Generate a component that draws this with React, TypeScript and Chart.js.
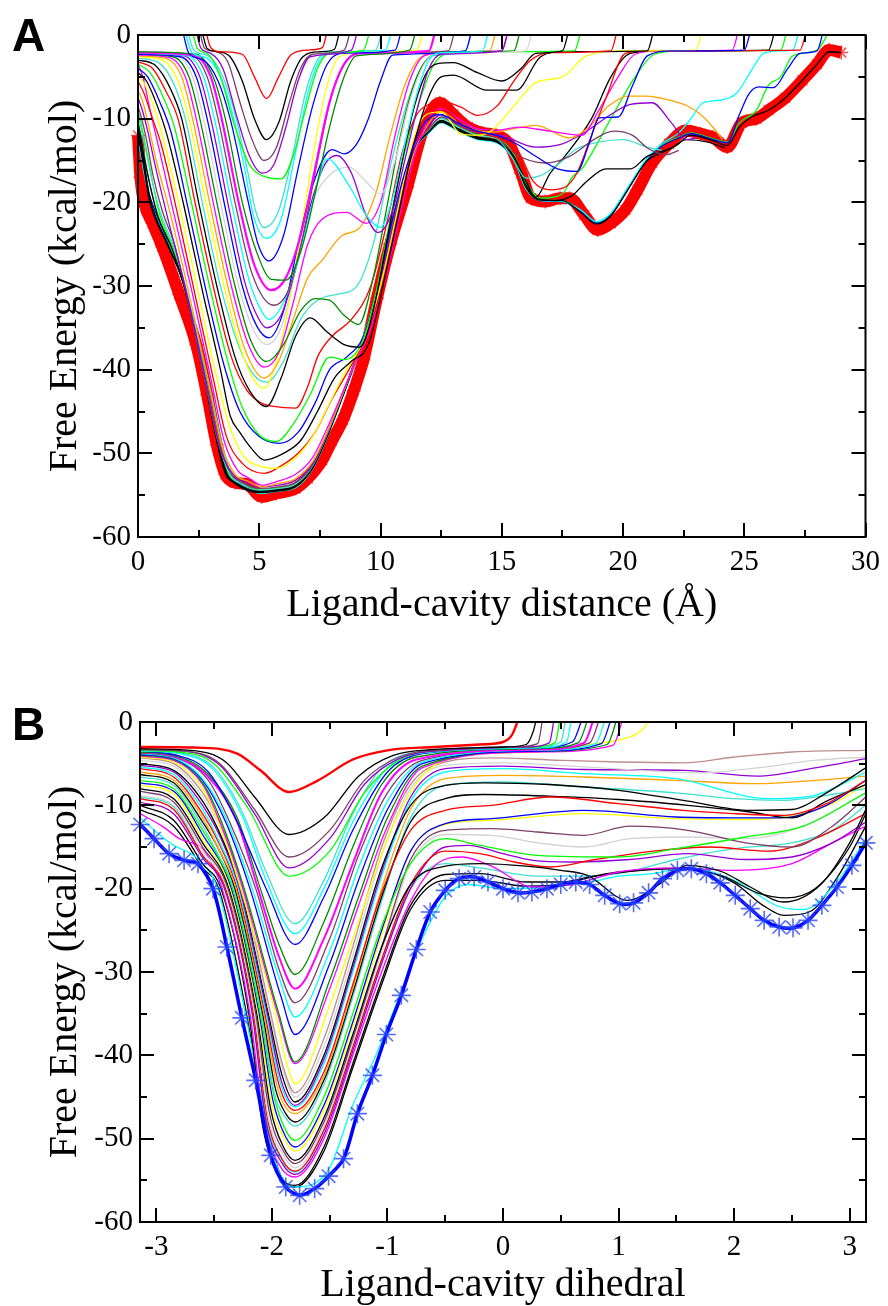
import React, { useEffect, useRef } from 'react';
import { Chart, registerables } from 'chart.js';
Chart.register(...registerables);

const SERIF = "'Liberation Serif', 'Times New Roman', Times, serif";
const SANS = "'Liberation Sans', Arial, Helvetica, sans-serif";

// xmgrace palette
const K = '#000000', R = '#ff0000', G = '#00ff00', BL = '#0000ff', Y = '#ffff00';
const BR = '#bc8f8f', GR = '#d3d3d3', V = '#9400d3', C = '#00ffff', M = '#ff00ff';
const O = '#ffa500', MA = '#7b3f6a', T = '#40e0d0', G4 = '#008b00';

// ---------- Panel A : axis ticks ----------
const A_X_MAJOR = [0, 5, 10, 15, 20, 25, 30];
const A_X_MINOR = [2.5, 7.5, 12.5, 17.5, 22.5, 27.5];
const A_Y_MAJOR = [-60, -50, -40, -30, -20, -10, 0];
const A_Y_MINOR = [-55, -45, -35, -25, -15, -5];

// ---------- Panel A : final profile (thick red) ----------
const A_FINAL_X = [0, 0.1, 0.25, 0.6, 1.0, 1.7, 2.4, 2.85, 3.25, 3.6, 4.0, 4.5, 5.1, 5.7, 6.5, 7.0, 7.6, 8.0, 8.45, 8.9, 9.3, 9.85, 10.4, 11.1, 11.75, 12.45, 13.0, 13.6, 14.2, 14.8, 15.3, 15.8, 16.2, 16.8, 17.4, 17.8, 18.4, 18.95, 19.5, 20.1, 20.6, 21.2, 21.9, 22.6, 23.2, 23.7, 24.3, 24.9, 25.5, 26.0, 26.7, 27.4, 28.0, 28.5, 29.0];
const A_FINAL_Y = [-12, -17, -20, -22.5, -25.3, -31, -37, -43, -49, -52.5, -53.5, -53.7, -55.2, -54.8, -54.2, -53, -50.8, -48.5, -46, -42.5, -38.8, -31.5, -25, -18.2, -11.4, -8.1, -9.5, -11, -11.7, -12, -13, -16.5, -19.5, -19.9, -19.5, -19.5, -21.5, -23.3, -22.5, -20.9, -18.5, -15.3, -13, -11.4, -11.8, -12.2, -13.4, -10.5, -10, -9, -7.5, -5.4, -3.5, -1.8, -2.1];

// ---------- Panel A : intermediate profiles (x, y pairs) ----------
const A01 = [2.75, 1, 3.0, -1.5, 3.4, -2, 4.3, -2.3, 4.8, -5, 5.3, -7.6, 5.8, -5, 6.3, -2.4, 7.0, -1.8, 7.6, -1.5, 7.85, 1];
const A02 = [2.6, 1, 2.85, -1.6, 3.3, -2, 3.8, -2.6, 4.3, -5.5, 4.8, -10, 5.3, -12.5, 5.8, -10.5, 6.3, -5.5, 6.8, -2.6, 7.5, -2, 8.1, -1.7, 8.35, 1];
const A03 = [2.5, 1, 2.75, -1.6, 3.2, -2, 3.7, -3.2, 4.2, -8, 4.7, -12.5, 5.2, -15, 5.7, -13.5, 6.2, -8.5, 6.7, -4, 7.2, -2.3, 8.5, -1.8, 8.8, 1];
const A04 = [2.35, 1, 2.6, -1.6, 3.0, -2.2, 3.5, -4, 4.1, -10, 4.6, -14.5, 5.1, -16.5, 5.6, -15.5, 6.1, -11, 6.6, -5.5, 7.1, -2.6, 8.8, -1.8, 9.1, 1];
const A05 = [2.2, 1, 2.45, -1.6, 2.9, -2.3, 3.4, -5, 4.0, -11, 4.6, -15.5, 5.2, -16.9, 5.9, -17.2, 6.4, -14.5, 6.9, -9, 7.4, -4, 7.9, -2.2, 9.3, -1.8, 9.6, 1];
const A06 = [2.0, 1, 2.3, -1.8, 2.9, -2.5, 3.5, -5, 4.05, -10, 4.5, -16, 4.85, -21, 5.2, -23, 5.8, -21, 6.4, -14, 6.9, -7, 7.4, -3, 8.0, -2, 9.8, -1.8, 10.1, 1];
const A07 = [1.9, 1, 2.2, -2, 2.8, -2.7, 3.4, -5, 3.95, -10, 4.4, -16, 4.75, -21.5, 5.3, -24.3, 5.9, -22, 6.5, -14, 7.0, -7, 7.5, -3, 8.2, -2, 10.2, -1.8, 10.5, 1];
const A08 = [1.8, 1, 2.1, -2.2, 2.7, -3, 3.3, -5.5, 3.8, -10, 4.55, -20, 4.95, -25, 5.4, -27, 6.0, -24, 6.6, -16, 7.2, -8.5, 7.8, -3.5, 8.4, -2.2, 10.6, -1.8, 10.9, 1];
const A09 = [0, -2, 2.4, -2.3, 3.1, -5, 3.6, -10, 4.3, -20, 4.9, -26, 5.5, -29.2, 6.1, -29.3, 6.7, -26, 7.3, -19, 7.9, -11, 8.5, -5, 9.0, -2.5, 11.2, -1.8, 11.5, 1];
const A10 = [0, -2.1, 2.3, -2.4, 3.0, -5, 3.45, -10, 4.15, -20, 4.8, -27.5, 5.5, -30.5, 6.1, -29, 6.7, -24, 7.3, -16, 7.9, -8, 8.5, -3.5, 9.1, -2.2, 12.0, -1.9, 12.3, 1];
const A11 = [0, -2.1, 2.2, -2.4, 2.85, -5, 3.3, -10, 4.0, -20, 4.7, -28.5, 5.6, -32.3, 6.2, -30.5, 6.8, -24, 7.4, -15, 8.0, -7, 8.6, -3, 9.2, -2.2, 12.8, -1.9, 13.1, 1];
const A12 = [0, -2.2, 2.05, -2.5, 2.7, -5, 3.15, -10, 3.85, -20, 4.55, -29, 5.0, -32.5, 5.4, -34, 6.0, -32, 6.6, -27, 7.2, -20, 7.8, -14.8, 8.7, -18, 9.4, -21.5, 10.0, -23, 10.5, -19.5, 11.0, -13, 11.5, -7, 12.0, -3, 12.5, -2.1, 14.2, -1.9, 14.5, 1];
const A13 = [0, -2.2, 1.9, -2.5, 2.55, -5, 3.0, -10, 3.7, -20, 4.4, -29.5, 4.9, -33.5, 5.3, -35, 5.9, -33.5, 6.5, -28, 7.1, -20.5, 7.7, -15.5, 8.2, -14.4, 8.8, -16.5, 9.4, -21.5, 9.9, -23.6, 10.5, -21, 11.0, -15, 11.5, -9, 12.0, -4, 12.5, -2.3, 15.0, -1.9, 15.3, 1];
const A14 = [0, -2.3, 1.75, -2.6, 2.4, -5, 2.85, -10, 3.55, -20, 4.3, -30, 4.9, -34.8, 5.4, -36.2, 6.0, -33, 6.6, -25, 7.2, -18, 8.0, -13.7, 8.5, -14.2, 9.0, -13.1, 9.5, -10, 10.0, -5.5, 10.5, -2.4, 13.5, -1.9, 13.8, 1];
const A15 = [0, -2.2, 1.6, -2.5, 2.25, -5, 2.7, -10, 3.4, -20, 4.15, -30, 4.8, -35.5, 5.3, -37, 5.9, -35, 6.5, -28, 7.2, -20, 8.0, -16.5, 8.7, -15.8, 9.4, -17.5, 10.0, -19, 10.6, -15, 11.2, -8, 11.8, -3.5, 12.4, -2.2, 16.0, -1.9, 16.3, 1];
const A16 = [0, -2.3, 1.45, -2.6, 2.1, -5, 2.55, -10, 3.25, -20, 4.0, -30, 4.65, -36.5, 5.3, -39, 6.0, -37, 6.7, -33, 7.3, -31.5, 7.9, -31.7, 8.5, -33.5, 9.1, -34.6, 9.7, -29, 10.3, -20, 10.9, -11, 11.5, -5, 12.1, -2.5, 13.0, -2, 15.5, -1.9, 15.8, 1];
const A17 = [0, -2.4, 1.3, -2.7, 1.95, -5, 2.4, -10, 3.1, -20, 3.85, -30, 4.55, -37, 5.2, -39.7, 5.8, -38, 6.4, -32, 7.0, -25, 7.6, -22, 8.6, -21.2, 9.4, -22.5, 10.0, -20, 10.6, -12, 11.2, -5.5, 11.8, -2.5, 13.0, -2, 15.0, -1.9, 15.3, 1];
const A18 = [0, -2.5, 1.15, -2.8, 1.8, -5, 2.25, -10, 2.95, -20, 3.7, -30, 4.4, -37.5, 5.2, -41, 5.8, -39, 6.4, -34, 7.0, -29, 7.6, -26.9, 8.4, -24, 9.15, -23, 9.8, -19, 10.4, -12, 11.0, -6, 11.6, -2.8, 12.5, -2, 14.5, -1.9, 14.8, 1];
const A19 = [0, -2.6, 1.0, -3, 1.65, -5.5, 2.1, -10, 2.8, -20, 3.55, -30, 4.3, -38, 4.8, -41.3, 5.2, -42.2, 5.8, -38, 6.3, -31, 6.8, -22, 7.3, -13, 7.8, -6, 8.3, -2.6, 9.5, -2, 11.5, -1.8, 11.8, 1];
const A20 = [0, -2.8, 0.85, -3.3, 1.5, -6, 1.95, -10, 2.65, -20, 3.4, -30, 4.2, -37.5, 4.8, -40.7, 5.3, -41.5, 6.0, -39, 6.7, -34, 7.4, -31.7, 8.2, -31, 9.0, -30.1, 9.7, -25, 10.3, -17, 10.9, -10, 11.5, -5, 12.1, -2.5, 13.5, -1.9, 13.8, 1];
const A21 = [0, -3.0, 0.7, -3.6, 1.35, -6.5, 1.8, -10, 2.5, -20, 3.25, -30, 4.0, -38.5, 4.6, -42.5, 5.3, -44.4, 5.9, -41, 6.5, -36, 7.1, -33.8, 7.8, -35.5, 8.5, -37, 9.15, -37.3, 9.7, -33, 10.3, -24, 10.9, -15, 11.4, -8.5, 11.9, -4.5, 12.4, -3.4, 13.0, -3.3, 14.0, -4.5, 15.0, -5.5, 15.8, -4, 16.4, -2.2, 17.5, -1.9, 17.8, 1];
const A22 = [0, -3.2, 0.6, -4, 1.2, -7, 1.65, -10, 2.35, -20, 3.1, -30, 3.85, -38.5, 4.5, -42.5, 5.1, -44, 5.6, -44.4, 6.5, -44.6, 7.0, -42, 7.4, -38.5, 8.0, -36, 8.8, -34, 9.6, -30, 10.3, -22, 10.9, -14, 11.5, -9.5, 12.0, -8.3, 12.6, -8, 13.3, -8.6, 14.0, -9.6, 14.8, -8.5, 15.5, -5.5, 16.2, -3, 17.0, -2.1, 19.5, -1.9, 19.8, 1];
const A23 = [0, -3.5, 0.5, -4.5, 1.05, -7.5, 1.5, -11, 2.2, -20, 2.95, -30, 3.7, -39, 4.3, -44.5, 5.0, -47.8, 5.7, -48.6, 6.4, -46.5, 7.1, -43, 7.9, -38.5, 8.5, -38.8, 9.2, -37, 9.8, -31, 10.4, -22, 11.0, -14, 11.6, -8, 12.2, -3.5, 12.8, -2.2, 14.5, -2, 18.0, -1.9, 18.3, 1];
const A24 = [0, -4, 0.4, -5, 0.9, -8, 1.35, -11.5, 2.05, -20.5, 2.8, -30.5, 3.55, -39.5, 4.2, -45, 5.0, -48, 5.85, -48.8, 6.6, -47.5, 7.3, -44, 7.9, -40, 8.6, -38.5, 9.3, -36, 9.9, -30, 10.5, -22, 11.1, -15.5, 11.7, -11, 12.4, -9.5, 13.2, -10.5, 14.0, -11.5, 14.8, -12, 15.6, -13, 16.4, -14.5, 17.3, -16, 18.1, -16.3, 18.6, -13, 19.0, -9.9, 19.8, -9.8, 20.4, -6, 21.0, -2.5, 22.0, -1.9, 25.0, -1.8, 25.3, 1];
const A25 = [0, -4.5, 0.35, -5.5, 0.8, -8.5, 1.2, -12, 1.9, -20.5, 2.65, -30.5, 3.4, -40, 3.8, -45.5, 4.2, -47.5, 4.7, -49.5, 5.2, -50.8, 6.0, -50, 6.7, -48.5, 7.4, -45, 8.1, -41, 8.8, -39, 9.5, -37, 10.1, -30, 10.7, -22, 11.3, -14, 11.9, -8, 12.5, -5, 13.0, -4.8, 14.4, -6.6, 15.6, -6.6, 16.6, -2.6, 17.5, -2.0, 21.0, -1.9, 21.3, 1];
const A26 = [0, -5, 0.3, -6, 0.7, -9, 1.05, -12.5, 1.75, -21, 2.5, -31, 3.25, -41, 3.8, -47, 4.4, -50.5, 5.0, -51.5, 5.7, -51.8, 6.5, -50.5, 7.2, -48, 7.9, -44, 8.6, -40, 9.3, -36.5, 10.0, -30, 10.7, -21, 11.3, -13, 11.9, -9.5, 12.5, -9.2, 13.3, -11.8, 14.0, -12, 14.6, -11.4, 15.5, -8.5, 16.4, -5.7, 17.5, -5.0, 18.5, -2.5, 20.0, -1.9, 23.0, -1.8, 23.3, 1];
const A27 = [0, -5.5, 0.25, -7, 0.6, -10, 0.95, -13, 1.6, -21, 2.35, -31, 3.1, -41, 3.65, -48, 4.3, -51.2, 5.2, -52.4, 5.9, -51.5, 6.6, -50, 7.3, -47.5, 8.0, -43.5, 8.7, -40, 9.4, -36, 10.1, -29, 10.8, -20, 11.4, -13, 12.0, -9.5, 12.6, -9, 13.4, -10.8, 14.2, -11.8, 15.0, -12.5, 15.7, -14, 16.3, -17.5, 17.0, -18.5, 17.6, -18.2, 18.1, -16.5, 18.7, -12, 19.3, -7.5, 20.1, -2.2, 21.0, -1.9, 27.3, -1.8, 27.6, 1];
const A28 = [0, -3.5, 0.2, -5, 0.5, -9, 0.9, -14, 1.45, -21, 2.25, -31, 3.0, -41, 3.55, -48.5, 4.1, -52, 4.6, -53, 5.1, -53.8, 5.8, -53.3, 6.5, -52.5, 7.2, -50.5, 7.8, -47, 8.4, -43, 9.0, -39, 9.6, -35, 10.2, -29, 10.8, -21.5, 11.4, -14.5, 12.0, -10, 12.5, -8.8, 13.2, -10, 14.0, -11.2, 14.8, -11.4, 15.7, -11, 17.0, -11.5, 18.3, -12, 19.0, -9, 19.8, -5, 20.5, -2.3, 21.5, -1.9, 24.5, -1.8, 24.8, 1];
const A29 = [0, -6.6, 0.2, -8, 0.45, -11, 0.75, -15, 1.3, -21, 2.15, -31.5, 2.9, -41.5, 3.45, -49, 4.0, -52.5, 4.5, -53.3, 5.1, -54, 5.8, -53.6, 6.5, -53, 7.2, -51, 7.8, -47.5, 8.4, -43.2, 9.0, -38.8, 9.6, -34, 10.2, -27.5, 10.8, -20, 11.4, -14, 12.0, -10.5, 12.5, -9.2, 13.2, -10.4, 14.0, -11.4, 14.7, -11.6, 15.5, -11.2, 16.4, -10.8, 17.8, -12.3, 18.6, -11, 19.4, -8.5, 20.2, -7.3, 21.0, -7.3, 21.5, -7.5, 22.6, -8.4, 23.2, -9.5, 23.7, -11, 24.1, -12.5];
const A30 = [0, -7.5, 0.18, -9, 0.4, -11.5, 0.7, -15.5, 1.15, -21, 2.1, -32, 2.85, -42, 3.4, -49.5, 3.95, -52.6, 4.4, -53.4, 5.0, -54, 5.8, -53.8, 6.5, -53.2, 7.2, -51.2, 7.8, -47.6, 8.4, -43.2, 9.0, -38.6, 9.6, -33.6, 10.2, -27, 10.8, -19.5, 11.4, -13.5, 12.0, -10.8, 12.5, -9.5, 13.2, -10.6, 14.0, -11.6, 15.0, -12, 16.4, -13.4, 17.5, -13, 18.5, -11.5, 19.5, -9.5, 20.3, -8.3, 21.2, -8.1, 22.0, -10.5, 22.6, -12.5, 23.0, -12.3];
const A31 = [0, -8.5, 0.15, -10, 0.35, -12.5, 0.6, -16.5, 1.0, -21, 1.5, -25, 2.0, -31, 2.8, -42, 3.3, -48.5, 3.85, -52.5, 4.3, -53.5, 5.0, -54.2, 5.8, -54, 6.5, -53.5, 7.2, -51.4, 7.8, -47.6, 8.4, -43.1, 9.0, -38.5, 9.6, -33.3, 10.2, -26.5, 10.8, -19.2, 11.4, -13.5, 12.0, -11.2, 12.5, -9.8, 13.2, -10.8, 14.0, -11.8, 14.8, -12.2, 15.5, -14.1, 16.8, -15.3, 17.8, -14.5, 18.8, -12.5, 19.6, -11.5, 20.4, -12, 21.0, -13.5, 21.8, -14.3, 22.3, -13.8];
const A32 = [0, -9.5, 0.12, -11, 0.3, -13.5, 0.55, -17, 0.9, -21, 1.5, -25.5, 2.0, -30.5, 2.75, -40.5, 3.25, -48, 3.8, -52.6, 4.2, -53.6, 5.0, -54.4, 5.8, -54.2, 6.5, -53.7, 7.2, -51.5, 7.8, -47.7, 8.4, -43.2, 9.0, -38.5, 9.6, -33.2, 10.2, -26.4, 10.8, -19, 11.4, -13.4, 12.0, -11.3, 12.5, -10, 13.2, -11, 14.0, -12, 14.8, -12.4, 15.4, -14.5, 16.0, -17.1, 16.6, -16.8, 17.3, -15.5, 18.1, -13.6, 19.0, -12.8, 20.0, -12.5, 21.0, -13.4, 21.6, -13.8];
const A33 = [0, -10.5, 0.1, -12, 0.25, -14.5, 0.5, -18, 0.8, -21.5, 1.4, -25.5, 1.95, -30.5, 2.7, -40, 3.2, -47.5, 3.7, -52.6, 4.1, -53.5, 5.0, -54.5, 5.8, -54.3, 6.5, -53.8, 7.2, -51.6, 7.8, -47.8, 8.4, -43.3, 9.0, -38.6, 9.6, -33.3, 10.2, -26.5, 10.8, -19.1, 11.4, -13.5, 12.0, -11.4, 12.5, -10.2, 13.2, -11.2, 14.0, -12.2, 14.8, -12.6, 15.5, -14.5, 16.0, -17.5, 16.4, -19.4, 17.0, -16.5, 17.6, -14.5, 18.7, -10, 19.5, -5, 20.3, -2.2, 21.5, -1.9, 26.0, -1.8, 26.3, 1];
const A34 = [0, -11.5, 0.1, -13, 0.25, -15.5, 0.45, -19, 0.7, -21.5, 1.3, -25.5, 1.9, -30, 2.65, -39.5, 3.15, -47, 3.6, -52.4, 4.0, -53.5, 5.0, -54.6, 5.8, -54.4, 6.5, -53.9, 7.2, -51.7, 7.8, -47.9, 8.4, -43.4, 9.0, -38.7, 9.6, -33.4, 10.2, -26.6, 10.8, -19.2, 11.4, -13.6, 12.0, -11.5, 12.5, -10.3, 13.2, -11.3, 14.0, -12.3, 14.8, -12.7, 15.5, -14.7, 16.0, -18, 16.5, -19.6, 17.2, -19.8, 17.9, -19.2, 18.5, -17.5, 19.3, -16, 20.3, -16, 21.0, -14.5, 22.0, -13.5, 22.6, -12.5, 23.5, -12.8, 24.2, -13.5];
const A35 = [0, -12, 0.1, -13.5, 0.25, -16, 0.45, -19.5, 0.65, -21.5, 1.2, -25, 1.85, -29.5, 2.6, -39, 3.1, -46.5, 3.55, -52, 4.0, -53.6, 5.0, -54.7, 5.8, -54.5, 6.5, -54, 7.2, -51.8, 7.8, -48, 8.4, -43.5, 9.0, -38.8, 9.6, -33.5, 10.2, -26.7, 10.8, -19.3, 11.4, -13.7, 12.0, -11.6, 12.5, -10.4, 13.2, -11.4, 14.0, -12.4, 14.8, -12.8, 15.5, -14.8, 16.0, -18.2, 16.5, -19.7, 17.5, -19.8, 18.3, -21.3, 18.9, -22.6, 19.5, -21.6, 20.2, -18.5, 21.0, -15, 21.5, -14.2, 22.2, -13.2, 22.8, -12, 23.6, -12.5, 24.3, -13.2, 24.8, -11, 25.3, -9.8, 26.0, -9, 26.7, -7.5, 27.4, -5.4, 28.0, -3.5, 28.5, -2, 29.0, -2.1];
const A36 = [0, -12.5, 0.1, -14, 0.25, -16.5, 0.5, -19.7, 1.0, -23.5, 1.73, -28.4, 2.2, -33, 2.7, -38.8, 3.1, -44, 3.5, -49.5, 3.8, -52.3, 4.3, -53.6, 5.0, -54.8, 5.8, -54.5, 6.5, -54.1, 7.2, -51.9, 7.8, -48.1, 8.4, -43.6, 9.0, -38.9, 9.6, -33.6, 10.2, -26.8, 10.8, -19.4, 11.4, -13.8, 12.0, -11.7, 12.5, -10.5, 13.2, -11.5, 14.0, -12.5, 14.8, -12.9, 15.5, -15, 16.0, -18.4, 16.6, -19.8, 17.5, -19.9, 18.3, -21, 18.9, -22.3, 19.5, -21.3, 20.2, -18.2, 21.0, -14.7, 21.6, -13, 22.3, -11.7, 22.8, -10, 23.3, -8.1, 24.0, -7.8, 24.7, -6.9, 25.3, -4.2, 25.8, -2.2, 26.5, -1.9, 27.0, -1.8, 27.3, 1];
const A37 = [0, -11, 0.1, -12.8, 0.25, -15.2, 0.45, -18.8, 0.7, -21, 1.25, -25, 1.9, -29.8, 2.65, -39.3, 3.15, -46.8, 3.6, -52.2, 4.0, -53.5, 5.0, -54.6, 5.8, -54.5, 6.5, -54, 7.2, -51.8, 7.8, -48, 8.4, -43.5, 9.0, -38.8, 9.6, -33.5, 10.2, -26.7, 10.8, -19.3, 11.4, -13.7, 12.0, -11.6, 12.5, -10.4, 13.2, -11.4, 14.0, -12.4, 14.8, -12.8, 15.5, -14.9, 16.0, -18.3, 16.6, -19.8, 17.5, -19.9, 18.3, -21.2, 18.9, -22.5, 19.5, -21.5, 20.2, -18.4, 21.0, -14.9, 21.6, -13.3, 22.3, -12.3, 22.8, -11.8, 23.6, -12.4, 24.3, -12.9, 24.8, -9.5, 25.2, -7, 25.6, -6.2, 26.2, -6.3, 26.8, -4, 27.3, -2.2, 28.0, -1.9, 28.3, 1];
const A38 = [0, -10, 0.1, -11.8, 0.25, -14.3, 0.5, -18, 0.8, -21.3, 1.35, -25.3, 1.95, -30.2, 2.7, -39.8, 3.2, -47.2, 3.7, -52.5, 4.1, -53.5, 5.0, -54.5, 5.8, -54.3, 6.5, -53.8, 7.2, -51.6, 7.8, -47.8, 8.4, -43.3, 9.0, -38.6, 9.6, -33.3, 10.2, -26.5, 10.8, -19.1, 11.4, -13.5, 12.0, -11.4, 12.5, -10.2, 13.2, -11.2, 14.0, -12.2, 14.8, -12.6, 15.5, -14.6, 16.0, -17.9, 16.6, -19.7, 17.5, -19.8, 18.3, -21.1, 18.9, -22.4, 19.5, -21.4, 20.2, -18.3, 21.0, -14.8, 21.6, -13.2, 22.3, -12.2, 22.8, -11.7, 23.6, -12.3, 24.3, -12.8, 24.8, -10.5, 25.5, -9, 26.0, -6, 26.5, -5, 27.0, -2.5, 28.0, -1.8, 28.6, 1];
const A39 = [0, -9, 0.12, -10.5, 0.3, -13, 0.55, -16.8, 0.85, -21, 1.45, -25.5, 2.0, -30.8, 2.75, -40.2, 3.25, -47.6, 3.75, -52.5, 4.15, -53.4, 5.0, -54.3, 5.8, -54.1, 6.5, -53.6, 7.2, -51.5, 7.8, -47.7, 8.4, -43.2, 9.0, -38.5, 9.6, -33.2, 10.2, -26.4, 10.8, -19, 11.4, -13.4, 12.0, -11.3, 12.5, -9.9, 13.2, -10.9, 14.0, -11.9, 14.8, -12.3, 15.5, -14.3, 16.0, -17.6, 16.6, -19.5, 17.5, -19, 17.9, -17, 18.3, -16, 19.5, -10, 20.5, -5, 21.3, -2.3, 22.5, -1.9, 26.5, -1.8, 26.8, 1];

const A_SERIES = [A01, A02, A03, A04, A05, A06, A07, A08, A09, A10, A11, A12, A13, A14, A15, A16, A17, A18, A19, A20, A21, A22, A23, A24, A25, A26, A27, A28, A29, A30, A31, A32, A33, A34, A35, A36, A37, A38, A39];
const A_COLORS = [R, K, MA, V, G, T, C, BL, G4, M, MA, C, V, BL, GR, G4, M, O, Y, T, K, R, G, BL, K, Y, R, M, O, V, MA, T, K, K, K, C, BL, G, G];

// ---------- Panel B : axis ticks ----------
const B_X_MAJOR = [-3, -2, -1, 0, 1, 2, 3];
const B_X_MINOR = [-2.5, -1.5, -0.5, 0.5, 1.5, 2.5];
const B_Y_MAJOR = [-60, -50, -40, -30, -20, -10, 0];
const B_Y_MINOR = [-55, -45, -35, -25, -15, -5];

// ---------- Panel B : final profile (blue stars) ----------
const B_FINAL_X = [-3.14, -3.02, -2.89, -2.76, -2.64, -2.51, -2.39, -2.26, -2.14, -2.01, -1.88, -1.76, -1.63, -1.51, -1.38, -1.26, -1.13, -1.01, -0.88, -0.75, -0.63, -0.50, -0.38, -0.25, -0.13, 0, 0.13, 0.25, 0.38, 0.50, 0.63, 0.75, 0.88, 1.01, 1.13, 1.26, 1.38, 1.51, 1.63, 1.76, 1.88, 2.01, 2.14, 2.26, 2.39, 2.51, 2.64, 2.76, 2.89, 3.02, 3.14];
const B_FINAL_Y = [-12.3, -14.0, -15.8, -16.6, -17.0, -20, -27, -35.5, -43, -52, -55.8, -56.8, -56, -54.5, -52.4, -47, -42.4, -37.5, -32.8, -27.3, -22.8, -20.2, -18.8, -18.6, -19.2, -20, -20.5, -20.4, -20, -19.5, -19.2, -19.5, -20.8, -21.8, -21.7, -20.5, -18.8, -17.8, -17.6, -18.2, -19.3, -20.8, -22.4, -23.8, -24.6, -24.7, -23.8, -22, -19.8, -17.2, -14.5];

// ---------- Panel B : intermediate profiles (x, y pairs) ----------
const B01 = [-3.14, -3.0, -2.6, -3.1, -2.3, -3.8, -2.1, -5.8, -1.85, -8.4, -1.6, -7, -1.3, -4.5, -1.0, -3.4, -0.6, -3.0, -0.2, -2.7, 0.0, -2.4, 0.08, -1.5, 0.15, 1];
const B02 = [-3.14, -3.2, -2.7, -3.4, -2.4, -4.8, -2.15, -9, -1.85, -13.5, -1.55, -11.5, -1.25, -6.5, -0.95, -4, -0.6, -3.3, 0.0, -3.0, 0.2, -2.7, 0.26, -1.2, 0.3, 1];
const B03 = [-3.14, -3.3, -2.75, -3.5, -2.45, -5, -2.15, -10.5, -1.85, -16.2, -1.5, -13, -1.2, -7, -0.9, -4.2, -0.5, -3.3, 0.1, -3.0, 0.3, -2.6, 0.35, 1];
const B04 = [-3.14, -3.3, -2.75, -3.5, -2.45, -5.2, -2.15, -11, -1.85, -17.5, -1.5, -14, -1.2, -7.5, -0.9, -4.4, -0.5, -3.4, 0.2, -3.0, 0.4, -2.5, 0.45, 1];
const B05 = [-3.14, -3.4, -2.8, -3.6, -2.5, -5, -2.2, -10.5, -1.85, -18.5, -1.5, -15.5, -1.2, -8.5, -0.9, -4.6, -0.5, -3.4, 0.25, -3.0, 0.45, -2.5, 0.5, 1];
const B06 = [-3.14, -3.4, -2.8, -3.7, -2.5, -5.5, -2.25, -11, -2.05, -18, -1.8, -24.2, -1.55, -19, -1.3, -11, -1.05, -5.5, -0.7, -3.6, 0.3, -3.0, 0.5, -2.4, 0.55, 1];
const B07 = [-3.14, -3.5, -2.8, -3.8, -2.5, -5.8, -2.25, -11.5, -2.05, -19, -1.8, -25.4, -1.55, -20, -1.3, -12, -1.0, -5.5, -0.7, -3.7, 0.3, -3.1, 0.55, -2.4, 0.6, 1];
const B08 = [-3.14, -3.5, -2.85, -3.9, -2.55, -6, -2.3, -12, -2.05, -20, -1.8, -26.7, -1.55, -21, -1.3, -13, -1.0, -6, -0.7, -3.8, 0.3, -3.1, 0.6, -2.4, 0.7, 1];
const B09 = [-3.14, -3.6, -2.85, -4, -2.55, -6.3, -2.3, -11.5, -2.1, -20, -1.93, -27, -1.8, -30.3, -1.55, -24, -1.3, -15, -1.05, -7.5, -0.75, -4.2, 0.3, -3.2, 0.65, -2.5, 0.75, 1];
const B10 = [-3.14, -3.6, -2.85, -4.1, -2.55, -6.6, -2.3, -12, -2.12, -20, -1.93, -28.5, -1.8, -32, -1.55, -26, -1.3, -17, -1.05, -8.5, -0.75, -4.5, 0.3, -3.3, 0.7, -2.5, 0.8, 1];
const B11 = [-3.14, -3.7, -2.85, -4.2, -2.55, -7, -2.35, -12.5, -2.14, -20, -1.93, -30, -1.8, -33.7, -1.5, -26, -1.25, -16, -1.0, -8.5, -0.7, -4.6, 0.3, -3.3, 0.75, -2.5, 0.85, 1];
const B12 = [-3.14, -3.8, -2.85, -4.3, -2.6, -6.8, -2.4, -11.5, -2.17, -20, -1.93, -31, -1.8, -35.4, -1.5, -27.5, -1.25, -17.5, -1.0, -9.5, -0.7, -4.8, 0.3, -3.4, 0.8, -2.6, 0.9, 1];
const B13 = [-3.14, -3.9, -2.85, -4.4, -2.6, -7, -2.4, -12, -2.19, -20, -1.92, -33, -1.8, -37.5, -1.5, -29, -1.25, -19, -1.0, -10.5, -0.7, -5, 0.3, -3.5, 0.85, -2.6, 0.95, 1];
const B14 = [-3.14, -4.0, -2.85, -4.5, -2.6, -7.3, -2.45, -11.5, -2.24, -20, -1.94, -35, -1.8, -40.8, -1.5, -31, -1.25, -21, -1.0, -11.5, -0.7, -5.3, 0.3, -3.5, 0.9, -2.7, 1.0, 1];
const B15 = [-3.14, -4.1, -2.85, -4.6, -2.6, -7.5, -2.45, -12, -2.25, -20, -1.95, -35, -1.8, -41, -1.5, -32, -1.25, -22, -1.0, -12.5, -0.7, -5.5, 0.3, -3.6, 0.95, -2.8, 1.05, 1];
const B16 = [-3.14, -4.2, -2.85, -4.8, -2.6, -8, -2.45, -12.5, -2.27, -20, -1.97, -35, -1.88, -40.5, -1.8, -43.4, -1.5, -34, -1.25, -24, -1.0, -14, -0.7, -6.5, -0.3, -4, 0.3, -3.6, 0.8, -2.6, 1.05, -2.0, 1.2, -1, 1.3, 1];
const B17 = [-3.14, -4.3, -2.85, -5, -2.6, -8.5, -2.42, -13, -2.25, -20, -2.01, -35, -1.9, -41.5, -1.8, -44.5, -1.55, -38, -1.3, -27, -1.05, -15, -0.8, -7.5, -0.5, -4.8, -0.1, -4.3, 0.5, -4.6, 1.0, -4.8, 1.56, -4.9, 2.0, -4.2, 2.51, -3.6, 3.14, -3.4];
const B18 = [-3.14, -4.6, -2.85, -5.3, -2.6, -9, -2.42, -13.5, -2.26, -20, -2.02, -35, -1.9, -42, -1.8, -45, -1.55, -39, -1.3, -28, -1.05, -16, -0.8, -8, -0.5, -5.2, 0.0, -4.9, 0.6, -5.3, 1.2, -5.8, 1.7, -6.1, 2.2, -5.5, 2.7, -4.6, 3.14, -4.2];
const B19 = [-3.14, -5.0, -2.85, -5.8, -2.6, -9.5, -2.43, -14, -2.27, -20, -2.03, -35, -1.91, -42.5, -1.8, -45.6, -1.55, -40, -1.3, -29, -1.05, -17.5, -0.8, -10, -0.5, -7.6, -0.17, -7.3, 0.4, -7.5, 1.0, -8.2, 1.6, -9.5, 2.14, -10.6, 2.5, -10.5, 2.8, -8.5, 3.14, -5.5];
const B20 = [-3.14, -5.2, -2.85, -6, -2.6, -10, -2.44, -14, -2.28, -20, -2.04, -35, -1.92, -43, -1.8, -46, -1.55, -40.5, -1.3, -29.5, -1.05, -18, -0.8, -9, -0.5, -5.6, 0.0, -5.3, 0.7, -5.7, 1.56, -5.8, 2.2, -6.5, 2.7, -5.5, 3.14, -4.4];
const B21 = [-3.14, -5.4, -2.85, -6.3, -2.6, -10.5, -2.45, -14.5, -2.29, -20, -2.05, -35, -1.93, -43.2, -1.8, -46.2, -1.55, -41, -1.3, -30, -1.05, -18.5, -0.8, -9.5, -0.5, -6, 0.0, -5.6, 0.7, -6.2, 1.5, -6.8, 2.3, -9.2, 2.7, -8.8, 3.14, -6];
const B22 = [-3.14, -5.6, -2.85, -6.6, -2.6, -11, -2.46, -14.5, -2.3, -20, -2.06, -35, -1.94, -43.5, -1.8, -46.6, -1.55, -42, -1.3, -31.5, -1.05, -20.5, -0.8, -13, -0.5, -10.6, -0.1, -10, 0.41, -9.0, 1.0, -9.8, 1.56, -10.6, 2.0, -11, 2.43, -11.2, 2.8, -9.8, 3.14, -7];
const B23 = [-3.14, -6.0, -2.85, -7, -2.6, -11.5, -2.47, -15, -2.31, -20, -2.07, -35, -1.95, -44, -1.8, -47, -1.55, -42.5, -1.3, -32, -1.05, -20, -0.8, -10.5, -0.5, -6.8, 0.0, -6.4, 0.7, -6.6, 1.5, -7, 2.2, -7.4, 2.7, -7, 3.14, -6.5];
const B24 = [-3.14, -6.3, -2.85, -7.3, -2.6, -12, -2.47, -15, -2.32, -20, -2.08, -35, -1.97, -44, -1.88, -47, -1.8, -48, -1.55, -43, -1.3, -32.5, -1.05, -21, -0.8, -12, -0.5, -9.2, -0.17, -8.7, 0.4, -8.9, 1.0, -9.3, 1.6, -10, 2.14, -10.8, 2.5, -11.5, 2.8, -9.5, 3.14, -7.5];
const B25 = [-3.14, -6.6, -2.85, -7.6, -2.6, -12.5, -2.48, -15.5, -2.33, -20, -2.09, -35, -1.98, -44.5, -1.88, -47.5, -1.8, -48.5, -1.55, -43.5, -1.3, -33, -1.05, -21.5, -0.8, -11.5, -0.5, -7.6, 0.0, -7.2, 0.7, -7.8, 1.5, -8.5, 2.0, -9.2, 2.43, -9.4, 2.8, -8.8, 3.14, -8];
const B26 = [-3.14, -7.0, -2.85, -8, -2.6, -13, -2.49, -15.5, -2.34, -20, -2.1, -35, -1.98, -45, -1.88, -49, -1.8, -50.2, -1.55, -45, -1.3, -35, -1.05, -24.5, -0.8, -17, -0.5, -14, -0.2, -14.8, 0.3, -16, 1.0, -16.2, 1.5, -15.2, 2.1, -13.8, 2.6, -12.5, 3.14, -8.5];
const B27 = [-3.14, -7.3, -2.85, -8.3, -2.6, -13.5, -2.35, -20, -2.11, -35, -1.99, -45.5, -1.88, -49.8, -1.8, -51, -1.55, -46, -1.3, -36, -1.05, -25, -0.8, -15.5, -0.5, -12.2, -0.1, -11.6, 0.7, -10.6, 1.5, -11.4, 2.0, -11.5, 2.4, -11.5, 2.8, -10, 3.14, -7];
const B28 = [-3.14, -7.6, -2.85, -8.6, -2.6, -14, -2.36, -20, -2.12, -35, -2.0, -46, -1.88, -50.3, -1.8, -51.5, -1.55, -46.5, -1.3, -36.5, -1.05, -25.5, -0.8, -15.5, -0.5, -12.3, -0.1, -11.8, 0.7, -11, 1.5, -11.6, 2.1, -11.7, 2.5, -11.3, 2.85, -9.8, 3.14, -7.5];
const B29 = [-3.14, -8.0, -2.85, -9.2, -2.6, -14.5, -2.37, -20, -2.13, -35, -2.01, -46.5, -1.9, -51, -1.8, -52.6, -1.55, -47.5, -1.3, -37.5, -1.05, -27, -0.8, -19.5, -0.5, -17.3, -0.2, -17, 0.2, -17.3, 0.5, -17.8, 0.73, -18.4, 1.08, -21.4, 1.35, -19.5, 1.6, -17.2, 1.9, -18, 2.14, -19.8, 2.43, -21.6, 2.75, -19.5, 3.0, -14.5, 3.14, -10.5];
const B30 = [-3.14, -8.3, -2.85, -9.6, -2.6, -15, -2.38, -20, -2.14, -35, -2.02, -47, -1.9, -51.5, -1.8, -53, -1.55, -48, -1.3, -38, -1.05, -27, -0.8, -16.5, -0.5, -13, -0.1, -12.8, 0.3, -13.2, 0.7, -13.6, 1.1, -12.5, 1.6, -13, 2.1, -14.5, 2.5, -15, 2.85, -12.5, 3.14, -9];
const B31 = [-3.14, -8.8, -2.85, -10, -2.6, -15.5, -2.39, -20, -2.15, -35, -2.03, -47.5, -1.9, -52, -1.8, -53.5, -1.55, -48.5, -1.3, -38.5, -1.05, -27.5, -0.8, -17, -0.5, -13.5, -0.1, -13.6, 0.3, -14.5, 0.7, -15, 1.1, -14, 1.6, -13.8, 2.1, -14, 2.6, -12.5, 3.14, -8.5];
const B32 = [-3.14, -9.2, -2.85, -10.5, -2.6, -16, -2.4, -20, -2.16, -35, -2.04, -47.5, -1.91, -52.5, -1.8, -53.9, -1.55, -49, -1.3, -39, -1.05, -28.5, -0.8, -19.5, -0.5, -15.5, -0.2, -15.8, 0.1, -16.8, 0.41, -17.4, 0.8, -16.5, 1.3, -15.5, 1.8, -15, 2.3, -15.5, 2.7, -14, 3.14, -11];
const B33 = [-3.14, -9.6, -2.85, -11, -2.6, -16.3, -2.41, -20, -2.17, -35, -2.05, -48, -1.91, -53, -1.8, -54.3, -1.55, -49.5, -1.3, -39.5, -1.05, -29, -0.8, -20, -0.5, -15, -0.3, -14.8, 0.0, -15.8, 0.26, -16.6, 0.6, -16.8, 1.1, -16.5, 1.6, -15.8, 2.1, -16.5, 2.5, -16.2, 2.85, -14.5, 3.14, -12];
const B34 = [-3.14, -11.0, -2.95, -12.5, -2.8, -14, -2.6, -15.2, -2.52, -17, -2.43, -20, -2.19, -35, -2.07, -48, -1.92, -53.5, -1.8, -54.6, -1.55, -50, -1.3, -40, -1.05, -30, -0.8, -21.5, -0.55, -16.8, -0.35, -16.2, -0.1, -17.3, 0.26, -19.8, 0.6, -19.5, 1.0, -18, 1.5, -17.5, 2.0, -17.8, 2.5, -17, 2.85, -14.5, 3.14, -12.5];
const B35 = [-3.14, -10.0, -2.85, -11.8, -2.6, -17, -2.44, -20, -2.2, -35, -2.08, -48.5, -1.93, -54.5, -1.8, -55.6, -1.55, -51, -1.3, -41, -1.05, -31, -0.8, -22, -0.5, -18.3, -0.2, -18.2, 0.2, -19.2, 0.5, -19.2, 0.75, -18.6, 1.0, -18, 1.5, -17.6, 1.9, -18.5, 2.2, -20.5, 2.45, -21.1, 2.7, -20, 3.0, -15, 3.14, -11];
const B36 = [-3.14, -11.5, -3.0, -13.2, -2.85, -14.8, -2.7, -15.8, -2.6, -17, -2.47, -20, -2.23, -35, -2.1, -44.5, -2.02, -50, -1.93, -54.2, -1.8, -55.8, -1.65, -55.5, -1.5, -53.5, -1.3, -46, -1.1, -40, -0.9, -33, -0.7, -26, -0.5, -21, -0.3, -19.5, 0.0, -20, 0.4, -19.8, 0.75, -19.2, 1.0, -18.5, 1.3, -18.2, 1.6, -17.5, 2.0, -19, 2.4, -22.2, 2.6, -22.5, 2.9, -19, 3.14, -14];
const B37 = [-3.14, -10.5, -2.85, -12.5, -2.6, -17.5, -2.46, -20, -2.22, -35, -2.09, -45.5, -2.01, -50.5, -1.92, -54.5, -1.8, -55.8, -1.55, -51.5, -1.3, -41.5, -1.05, -31.5, -0.8, -22.5, -0.5, -19, -0.2, -19, 0.2, -19.7, 0.5, -19.5, 0.8, -18.5, 1.2, -17.8, 1.6, -17.5, 2.0, -19.3, 2.25, -22, 2.43, -23.2, 2.65, -22.8, 2.9, -18.5, 3.14, -12.5];
const B38 = [-3.14, -9.0, -2.85, -10.2, -2.6, -16, -2.41, -20, -2.17, -35, -2.05, -47.5, -1.91, -52.7, -1.8, -54, -1.55, -49, -1.3, -39, -1.05, -28.5, -0.8, -20, -0.5, -17, -0.2, -17.5, 0.3, -18.5, 0.7, -18.5, 1.0, -18.2, 1.5, -16.5, 2.0, -15.2, 2.5, -14.5, 2.85, -13, 3.14, -10];

const B_SERIES = [B01, B02, B03, B04, B05, B06, B07, B08, B09, B10, B11, B12, B13, B14, B15, B16, B17, B18, B19, B20, B21, B22, B23, B24, B25, B26, B27, B28, B29, B30, B31, B32, B33, B34, B35, B36, B37, B38];
const B_COLORS = [R, K, MA, V, G, T, C, BL, G4, M, MA, C, BL, G4, M, Y, BR, GR, K, V, C, R, O, K, T, G, BL, Y, K, MA, GR, R, V, M, K, C, K, T];

// ---------- helpers ----------
function toPts(a: number[]) {
  const out: { x: number; y: number }[] = [];
  for (let i = 0; i + 1 < a.length; i += 2) out.push({ x: a[i], y: a[i + 1] });
  return out;
}
function zipPts(xs: number[], ys: number[]) {
  return xs.map((x, i) => ({ x, y: ys[i] }));
}
function thinLine(arr: number[], color: string, width = 1.3) {
  return {
    data: toPts(arr),
    borderColor: color,
    borderWidth: width,
    pointRadius: 0,
    fill: false,
    cubicInterpolationMode: 'monotone',
    clip: 0,
    order: 0,
  };
}

const tickFrame = {
  id: 'tickFrame',
  afterDatasetsDraw(chart: any, _args: any, o: any) {
    const { ctx, chartArea: ca, scales } = chart;
    const xs = scales.x;
    const ys = scales.y;
    ctx.save();
    ctx.strokeStyle = '#000';
    ctx.lineWidth = 2;
    ctx.beginPath();
    const seg = (x1: number, y1: number, x2: number, y2: number) => {
      ctx.moveTo(x1, y1);
      ctx.lineTo(x2, y2);
    };
    const xt = (vals: number[], len: number) =>
      vals.forEach((v) => {
        const p = Math.round(xs.getPixelForValue(v));
        seg(p, ca.bottom, p, ca.bottom - len);
        seg(p, ca.top, p, ca.top + len);
      });
    const yt = (vals: number[], len: number) =>
      vals.forEach((v) => {
        const p = Math.round(ys.getPixelForValue(v));
        seg(ca.left, p, ca.left + len, p);
        seg(ca.right, p, ca.right - len, p);
      });
    xt(o.xMajor, 14);
    xt(o.xMinor, 7);
    yt(o.yMajor, 14);
    yt(o.yMinor, 7);
    ctx.stroke();
    ctx.strokeRect(ca.left, ca.top, ca.right - ca.left, ca.bottom - ca.top);
    ctx.restore();
  },
};

function axisOpts(p: {
  min: number; max: number; step?: number; fixedTicks?: number[];
  size: number; horizontal: boolean; title: string; titlePad: any; tickPad: number;
}) {
  const o: any = {
    type: 'linear',
    min: p.min,
    max: p.max,
    grid: { display: false, drawTicks: false },
    border: { display: false },
    ticks: {
      color: '#000',
      font: { family: SERIF, size: 29 },
      padding: p.tickPad,
      maxRotation: 0,
      autoSkip: false,
    },
    title: {
      display: true,
      text: p.title,
      color: '#000',
      font: { family: SERIF, size: 40, lineHeight: 1 },
      padding: p.titlePad,
    },
    afterFit: (s: any) => {
      if (p.horizontal) s.height = p.size;
      else s.width = p.size;
    },
  };
  if (p.step) o.ticks.stepSize = p.step;
  if (p.fixedTicks) {
    const ft = p.fixedTicks;
    o.afterBuildTicks = (s: any) => {
      s.ticks = ft.map((v) => ({ value: v }));
    };
  }
  return o;
}

function useChart(ref: React.RefObject<HTMLCanvasElement>, makeConfig: () => any) {
  useEffect(() => {
    if (!ref.current) return;
    const chart = new Chart(ref.current, makeConfig());
    return () => chart.destroy();
  }, []);
}

function configA() {
  const datasets: any[] = A_SERIES.map((s, i) => thinLine(s, A_COLORS[i], i === 9 ? 2.2 : 1.3));
  datasets.push({
    data: zipPts(A_FINAL_X, A_FINAL_Y),
    borderColor: '#ff0000',
    borderWidth: 12,
    pointRadius: 7,
    pointStyle: 'star',
    pointBorderColor: 'rgba(255,0,0,0.7)',
    pointBackgroundColor: 'rgba(255,0,0,0)',
    pointBorderWidth: 1.5,
    cubicInterpolationMode: 'monotone',
    fill: false,
    clip: 8,
    order: 1,
  });
  return {
    type: 'line',
    data: { datasets },
    plugins: [tickFrame],
    options: {
      animation: false,
      responsive: false,
      maintainAspectRatio: false,
      parsing: false,
      events: [],
      layout: { padding: { left: 0, right: 22, top: 35, bottom: 0 } },
      plugins: {
        legend: { display: false },
        tooltip: { enabled: false },
        tickFrame: { xMajor: A_X_MAJOR, xMinor: A_X_MINOR, yMajor: A_Y_MAJOR, yMinor: A_Y_MINOR },
      },
      scales: {
        x: axisOpts({ min: 0, max: 30, step: 5, size: 113, horizontal: true, title: 'Ligand-cavity distance (Å)', titlePad: { top: 0, bottom: 25 }, tickPad: 8 }),
        y: axisOpts({ min: -60, max: 0, step: 10, size: 138, horizontal: false, title: 'Free Energy (kcal/mol)', titlePad: { top: 45, bottom: 0 }, tickPad: 7 }),
      },
    },
  };
}

function configB() {
  const datasets: any[] = B_SERIES.map((s, i) => thinLine(s, B_COLORS[i], i === 0 ? 2.4 : i === 9 ? 2.0 : 1.3));
  datasets.push({
    data: zipPts(B_FINAL_X, B_FINAL_Y),
    borderColor: '#0000ff',
    borderWidth: 3.5,
    pointRadius: 9.5,
    pointStyle: 'star',
    pointBorderColor: 'rgba(40,70,255,0.8)',
    pointBackgroundColor: 'rgba(0,0,0,0)',
    pointBorderWidth: 1.6,
    tension: 0.3,
    fill: false,
    clip: 10,
    order: -1,
  });
  return {
    type: 'line',
    data: { datasets },
    plugins: [tickFrame],
    options: {
      animation: false,
      responsive: false,
      maintainAspectRatio: false,
      parsing: false,
      events: [],
      layout: { padding: { left: 0, right: 22, top: 72, bottom: 0 } },
      plugins: {
        legend: { display: false },
        tooltip: { enabled: false },
        tickFrame: { xMajor: B_X_MAJOR, xMinor: B_X_MINOR, yMajor: B_Y_MAJOR, yMinor: B_Y_MINOR },
      },
      scales: {
        x: axisOpts({ min: -Math.PI, max: Math.PI, fixedTicks: B_X_MAJOR, size: 84, horizontal: true, title: 'Ligand-cavity dihedral', titlePad: { top: 0, bottom: 1 }, tickPad: 8 }),
        y: axisOpts({ min: -60, max: 0, step: 10, size: 140, horizontal: false, title: 'Free Energy (kcal/mol)', titlePad: { top: 45, bottom: 0 }, tickPad: 7 }),
      },
    },
  };
}

const letterStyle: React.CSSProperties = {
  position: 'absolute',
  left: 12,
  fontFamily: SANS,
  fontWeight: 'bold',
  fontSize: 46,
  lineHeight: 1,
  color: '#000',
};

export default function App() {
  const refA = useRef<HTMLCanvasElement>(null);
  const refB = useRef<HTMLCanvasElement>(null);
  useChart(refA, configA);
  useChart(refB, configB);
  return (
    <div style={{ position: 'absolute', left: 0, top: 0, width: 888, height: 1306, background: '#fff', overflow: 'hidden' }}>
      <canvas ref={refA} width={888} height={650} style={{ position: 'absolute', left: 0, top: 0, width: 888, height: 650 }} />
      <canvas ref={refB} width={888} height={656} style={{ position: 'absolute', left: 0, top: 650, width: 888, height: 656 }} />
      <div style={{ ...letterStyle, top: 12 }}>A</div>
      <div style={{ ...letterStyle, top: 701 }}>B</div>
    </div>
  );
}
